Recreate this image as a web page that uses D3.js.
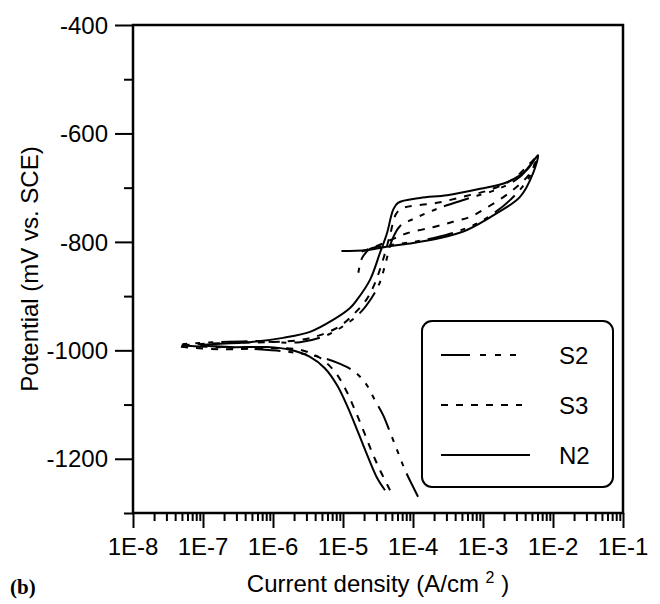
<!DOCTYPE html>
<html>
<head>
<meta charset="utf-8">
<script src="https://cdn.jsdelivr.net/npm/d3@7"></script>
<style>
  body { margin: 0; background: #fff; }
  svg text { font-family: "Liberation Sans", Arial, sans-serif; fill: #000; }
</style>
</head>
<body>
<script>
// polarization curves: current density (A/cm2) and potential (mV vs SCE)
const n2Current = [3.98e-5, 3.06e-5, 2.28e-5, 1.64e-5, 1.18e-5, 8.2e-6, 5.5e-6, 3.38e-6, 1.75e-6, 8.2e-7, 2.43e-7,
  9.1e-8, 4.7e-7, 1.39e-6, 3.38e-6, 7.2e-6, 1.26e-5, 1.58e-5, 2.43e-5, 3.38e-5, 4.25e-5, 5.2e-5, 6.1e-5,
  1.26e-4, 3.06e-4, 9.1e-4, 2.2e-3, 4.25e-3, 6.1e-3,
  5.2e-3, 3.38e-3, 1.58e-3, 5.9e-4, 2.43e-4, 1.0e-4, 4.7e-5, 2.2e-5, 9.5e-6];
const n2Potential = [-1258, -1235, -1197, -1151, -1106, -1064, -1033, -1012, -999, -994, -994,
  -990, -985, -977, -966, -944, -922, -907, -870, -820, -784, -741, -728,
  -719, -714, -702, -690, -667, -640,
  -673, -717, -747, -778, -793, -802, -808, -815, -817];

const s3Current = [4.7e-5, 3.38e-5, 2.6e-5, 2.0e-5, 1.48e-5, 1.1e-5, 7.7e-6, 4.7e-6, 2.43e-6, 9.1e-7, 1.75e-7,
  4.4e-8, 2.43e-7, 9.1e-7, 2.43e-6, 4.7e-6, 9.1e-6, 1.48e-5, 2.2e-5, 2.86e-5, 3.73e-5, 4.7e-5, 5.7e-5, 7.0e-5,
  2.2e-4, 5.9e-4, 1.26e-3, 2.7e-3, 4.7e-3, 5.9e-3,
  4.85e-3, 2.7e-3, 1.0e-3, 6.5e-4, 3.73e-4, 1.93e-4, 8.2e-5, 4.7e-5, 2.86e-5, 1.75e-5];
const s3Potential = [-1258, -1221, -1188, -1151, -1110, -1073, -1040, -1014, -999, -996, -998,
  -992, -986, -985, -981, -972, -955, -931, -905, -876, -833, -787, -749, -738,
  -728, -715, -704, -684, -655, -643,
  -671, -704, -741, -754, -763, -773, -784, -797, -809, -819];

const s2Current = [1.18e-4, 9.7e-5, 7.7e-5, 6.1e-5, 4.7e-5, 3.73e-5, 2.86e-5, 2.13e-5, 1.48e-5, 9.1e-6, 5.2e-6, 1.75e-6, 4.7e-7,
  4.4e-8, 4.7e-7, 2.43e-6, 5.9e-6, 1.07e-5, 1.75e-5, 2.6e-5, 3.38e-5, 4.1e-5, 5.0e-5, 6.5e-5,
  1.0e-4, 2.2e-4, 6.5e-4, 1.75e-3, 3.38e-3, 5.5e-3,
  4.7e-3, 2.43e-3, 9.1e-4, 3.38e-4, 1.26e-4, 4.7e-5, 2.43e-5, 1.87e-5, 1.64e-5];
const s2Potential = [-1270, -1248, -1221, -1188, -1151, -1119, -1092, -1062, -1040, -1025, -1014, -1003, -997,
  -990, -983, -985, -972, -953, -931, -902, -874, -837, -797, -771,
  -758, -739, -719, -701, -680, -649,
  -678, -723, -763, -785, -798, -806, -813, -830, -861];

const seriesNames = ["S2", "S3", "N2"];
const xTickValues = [1e-8, 1e-7, 1e-6, 1e-5, 1e-4, 1e-3, 1e-2, 1e-1];
const xTickLabels = ["1E-8", "1E-7", "1E-6", "1E-5", "1E-4", "1E-3", "1E-2", "1E-1"];
const yTickValues = [-400, -600, -800, -1000, -1200];
const yMinorValues = [-500, -700, -900, -1100, -1300];

const width = 660, height = 604;
const plotLeft = 133, plotRight = 623, plotTop = 25, plotBottom = 513;

const svg = d3.select("body").append("svg")
  .attr("width", width)
  .attr("height", height);

const x = d3.scaleLog().domain([1e-8, 1e-1]).range([plotLeft, plotRight]);
const y = d3.scaleLinear().domain([-1300, -400]).range([plotBottom, plotTop]);

// minor ticks on the log axis (2..9 of each decade)
const xMinor = [];
xTickValues.slice(0, -1).forEach(d => {
  for (let k = 2; k <= 9; k++) xMinor.push(d * k);
});

// x axis
const gx = svg.append("g").attr("transform", `translate(0,${plotBottom})`);
gx.call(d3.axisBottom(x).tickValues(xTickValues).tickSize(15).tickFormat(""));
gx.append("g").call(d3.axisBottom(x).tickValues(xMinor).tickSize(8).tickFormat(""));
gx.selectAll(".domain").remove();
gx.selectAll("line").attr("stroke", "#000").attr("stroke-width", 2);

svg.append("g").selectAll("text")
  .data(xTickValues)
  .join("text")
  .attr("x", d => x(d))
  .attr("y", 555)
  .attr("text-anchor", "middle")
  .style("font-size", "24px")
  .text((d, i) => xTickLabels[i]);

// y axis
const gy = svg.append("g").attr("transform", `translate(${plotLeft},0)`);
gy.call(d3.axisLeft(y).tickValues(yTickValues).tickSize(18).tickFormat(""));
gy.append("g").call(d3.axisLeft(y).tickValues(yMinorValues).tickSize(9).tickFormat(""));
gy.selectAll(".domain").remove();
gy.selectAll("line").attr("stroke", "#000").attr("stroke-width", 2);

svg.append("g").selectAll("text")
  .data(yTickValues)
  .join("text")
  .attr("x", 108)
  .attr("y", d => y(d))
  .attr("dy", "0.36em")
  .attr("text-anchor", "end")
  .style("font-size", "24px")
  .text(d => d);

// frame
svg.append("rect")
  .attr("x", plotLeft).attr("y", plotTop)
  .attr("width", plotRight - plotLeft).attr("height", plotBottom - plotTop)
  .attr("fill", "none")
  .attr("stroke", "#000")
  .attr("stroke-width", 2.5);

// curves
const line = d3.line()
  .x(d => x(d[0]))
  .y(d => y(d[1]))
  .curve(d3.curveCatmullRom.alpha(0.5));

const dashes = { S2: "26,8,5,8,5,8,5,8", S3: "7,8", N2: null };
const curves = [
  { name: "S2", data: d3.zip(s2Current, s2Potential) },
  { name: "S3", data: d3.zip(s3Current, s3Potential) },
  { name: "N2", data: d3.zip(n2Current, n2Potential) }
];

svg.append("g").selectAll("path")
  .data(curves)
  .join("path")
  .attr("d", d => line(d.data))
  .attr("fill", "none")
  .attr("stroke", "#000")
  .attr("stroke-width", 2)
  .attr("stroke-dasharray", d => dashes[d.name]);

// legend
const legend = svg.append("g");
legend.append("rect")
  .attr("x", 422).attr("y", 321)
  .attr("width", 191).attr("height", 166)
  .attr("rx", 10)
  .attr("fill", "#fff")
  .attr("stroke", "#000")
  .attr("stroke-width", 2);

const rows = legend.selectAll("g.row")
  .data(seriesNames)
  .join("g")
  .attr("class", "row")
  .attr("transform", (d, i) => `translate(0,${355 + i * 50})`);

rows.append("line")
  .attr("x1", 441).attr("x2", d => d === "N2" ? 530 : 522)
  .attr("stroke", "#000")
  .attr("stroke-width", 2)
  .attr("stroke-dasharray", d => d === "S2" ? "29,10,6,9,6,9,6,9" : dashes[d]);

rows.append("text")
  .attr("x", 559)
  .attr("dy", "0.36em")
  .style("font-size", "24px")
  .text(d => d);

// axis titles
svg.append("text")
  .attr("transform", "translate(38,269) rotate(-90)")
  .attr("text-anchor", "middle")
  .style("font-size", "24px")
  .text("Potential (mV vs. SCE)");

const xt = svg.append("text")
  .attr("x", 378)
  .attr("y", 592)
  .attr("text-anchor", "middle")
  .style("font-size", "24px");
xt.append("tspan").text("Current density (A/cm ");
xt.append("tspan").attr("dy", -9).style("font-size", "16px").text("2");
xt.append("tspan").attr("dy", 9).text(" )");

svg.append("text")
  .attr("x", 10)
  .attr("y", 594)
  .style("font-family", "'Liberation Serif', 'Times New Roman', serif")
  .style("font-weight", "bold")
  .style("font-size", "21px")
  .text("(b)");
</script>
</body>
</html>
